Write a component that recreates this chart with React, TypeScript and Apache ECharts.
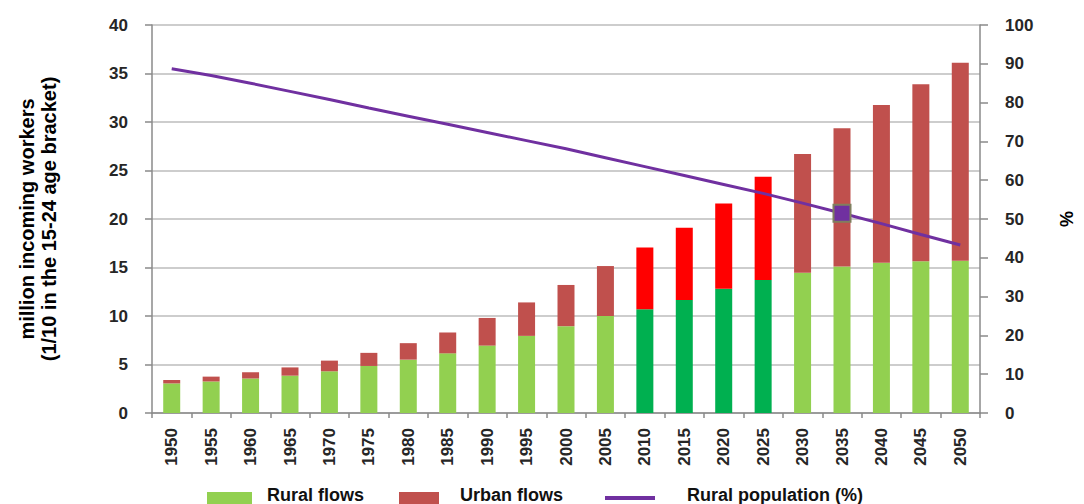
import React, { useEffect, useRef } from "react";
import * as echarts from "echarts";

const years = ["1950","1955","1960","1965","1970","1975","1980","1985","1990","1995","2000","2005","2010","2015","2020","2025","2030","2035","2040","2045","2050"];
const ruralFlows = [3.05,3.25,3.55,3.85,4.3,4.85,5.5,6.15,6.95,7.95,8.95,10.0,10.7,11.65,12.8,13.7,14.45,15.1,15.5,15.65,15.7];
const urbanFlows = [0.35,0.5,0.65,0.85,1.1,1.35,1.7,2.15,2.85,3.45,4.25,5.15,6.35,7.45,8.8,10.65,12.25,14.25,16.25,18.25,20.4];
const ruralPopulationPct = [88.7,87.0,85.0,82.9,80.8,78.6,76.5,74.4,72.3,70.2,68.1,65.8,63.5,61.2,58.9,56.6,54.1,51.5,48.8,46.0,43.3];
const highlightedYears = ["2010","2015","2020","2025"];
const markerYear = "2035";
const leftTicks = { min: 0, max: 40, interval: 5 };
const rightTicks = { min: 0, max: 100, interval: 10 };
const legendNames = ["Rural flows", "Urban flows", "Rural population (%)"];

const FONT = "'Liberation Sans', Arial, sans-serif";
const TXT = "#262626";
const AXIS = "#8a8a8a";
const C_RURAL = "#92D050";
const C_URBAN = "#C0504D";
const C_LINE = "#7030A0";

export default function App() {
  const ref = useRef<HTMLDivElement>(null);
  useEffect(() => {
    if (!ref.current) return;
    const chart = echarts.init(ref.current, null, { renderer: "svg" });
    const ruralData = ruralFlows.map((v, i) =>
      highlightedYears.includes(years[i]) ? { value: v, itemStyle: { color: "#00B050" } } : v
    );
    const urbanData = urbanFlows.map((v, i) =>
      highlightedYears.includes(years[i]) ? { value: v, itemStyle: { color: "#FF0000" } } : v
    );
    const lineData = ruralPopulationPct.map((v, i) =>
      years[i] === markerYear
        ? { value: v, symbol: "rect", symbolSize: 17, itemStyle: { color: C_LINE, borderColor: "#7F7F5F", borderWidth: 2 } }
        : v
    );
    const labelStyle = { color: TXT, fontFamily: FONT, fontWeight: "bold" as const, fontSize: 17 };
    const legendTextStyle = (x: number, text: string) => ({
      type: "text",
      left: x,
      top: 486,
      style: { text, fill: "#111", font: `bold 18px ${FONT}` },
    });
    chart.setOption({
      animation: false,
      backgroundColor: "#fff",
      grid: { left: 152, right: 99, top: 25, bottom: 91 },
      graphic: [
        { type: "rect", left: 207, top: 492, shape: { width: 45, height: 14 }, style: { fill: C_RURAL } },
        legendTextStyle(267, legendNames[0]),
        { type: "rect", left: 399, top: 492, shape: { width: 40, height: 14 }, style: { fill: C_URBAN } },
        legendTextStyle(460, legendNames[1]),
        { type: "rect", left: 605, top: 496, shape: { width: 50, height: 4 }, style: { fill: C_LINE } },
        legendTextStyle(687, legendNames[2]),
      ],
      xAxis: {
        type: "category",
        data: years,
        axisLine: { lineStyle: { color: AXIS, width: 1.5 } },
        axisTick: { show: true, length: 5, lineStyle: { color: AXIS, width: 1.5 } },
        axisLabel: { ...labelStyle, rotate: 90, margin: 15, interval: 0 },
      },
      yAxis: [
        {
          type: "value",
          ...leftTicks,
          name: "million incoming workers\n(1/10 in the 15-24 age bracket)",
          nameLocation: "middle",
          nameGap: 92,
          nameTextStyle: { color: "#000", fontFamily: FONT, fontWeight: "bold", fontSize: 20, lineHeight: 22 },
          axisLine: { show: true, lineStyle: { color: AXIS, width: 1.5 } },
          axisTick: { show: true, length: 7, lineStyle: { color: AXIS, width: 1.5 } },
          axisLabel: { ...labelStyle, margin: 24 },
          splitLine: { lineStyle: { color: "#bdbdbd", width: 1.5 } },
        },
        {
          type: "value",
          ...rightTicks,
          position: "right",
          name: "%",
          nameLocation: "middle",
          nameGap: 78,
          nameRotate: 90,
          nameTextStyle: { color: "#000", fontFamily: FONT, fontWeight: "bold", fontSize: 18 },
          axisLine: { show: true, lineStyle: { color: AXIS, width: 1.5 } },
          axisTick: { show: true, length: 8, lineStyle: { color: AXIS, width: 1.5 } },
          axisLabel: { ...labelStyle, margin: 25 },
          splitLine: { show: false },
        },
      ],
      series: [
        { name: legendNames[0], type: "bar", stack: "flows", barWidth: 17, data: ruralData, itemStyle: { color: C_RURAL } },
        { name: legendNames[1], type: "bar", stack: "flows", barWidth: 17, data: urbanData, itemStyle: { color: C_URBAN } },
        {
          name: legendNames[2],
          type: "line",
          yAxisIndex: 1,
          data: lineData,
          symbol: "none",
          showSymbol: true,
          lineStyle: { color: C_LINE, width: 3 },
          itemStyle: { color: C_LINE },
          z: 5,
        },
      ],
    });
    return () => chart.dispose();
  }, []);
  return <div ref={ref} style={{ position: "fixed", left: 0, top: 0, width: 1084, height: 504 }} />;
}
